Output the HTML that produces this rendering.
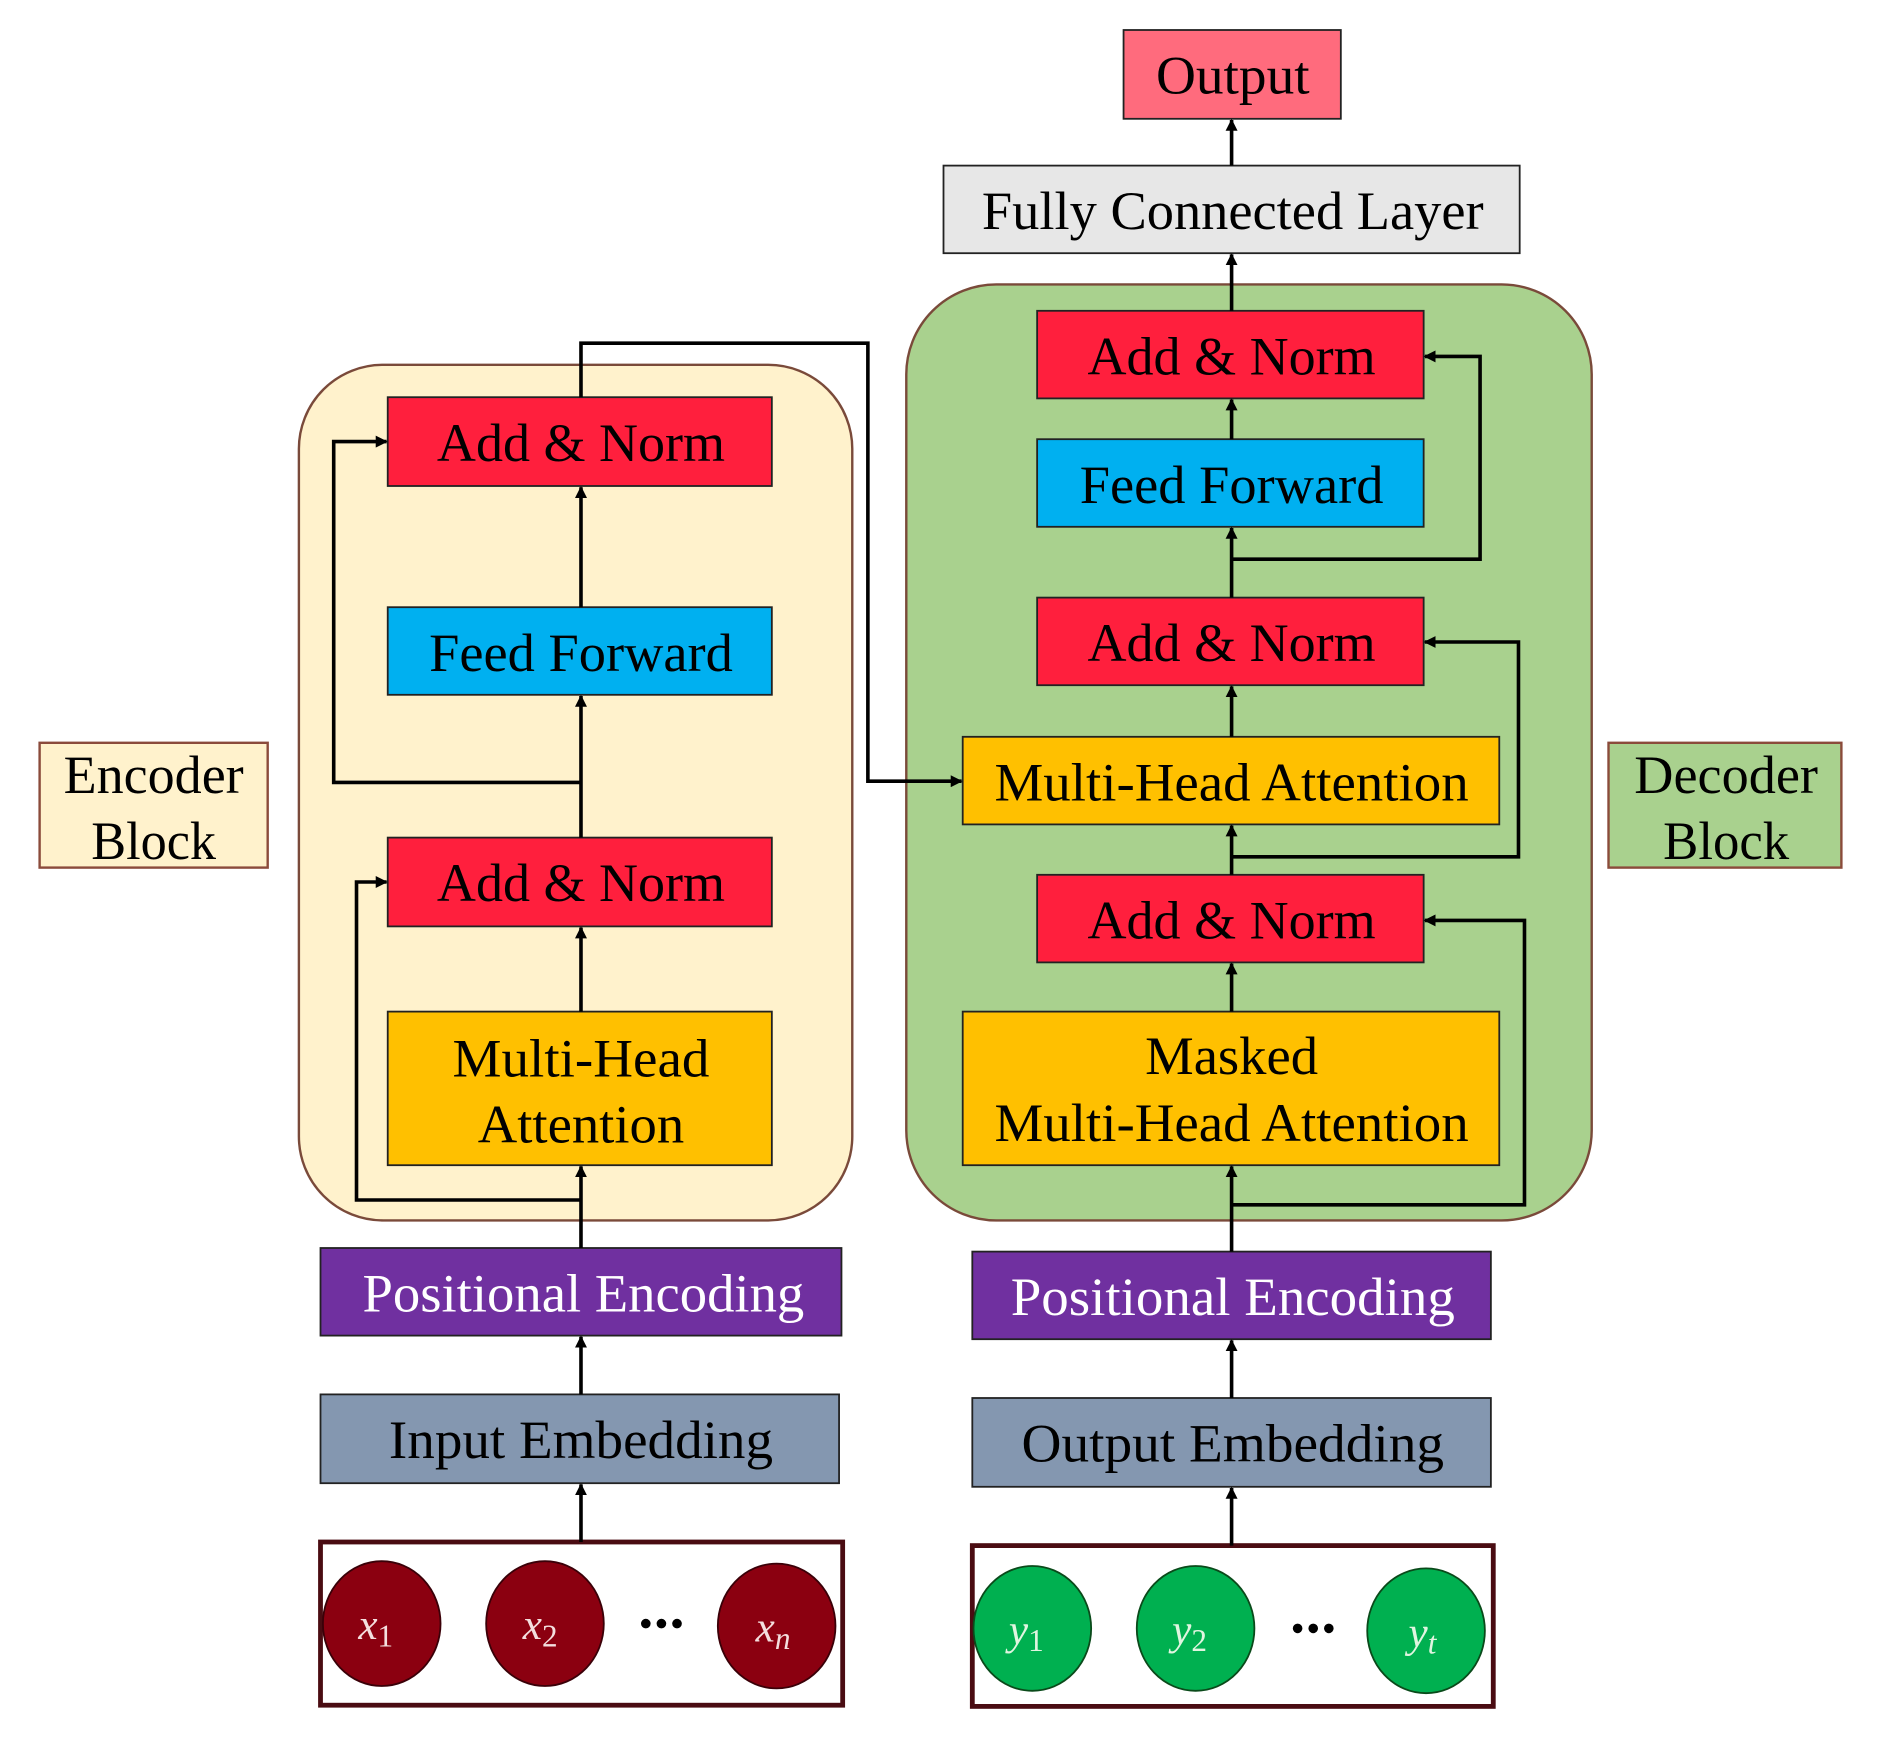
<!DOCTYPE html>
<html><head><meta charset="utf-8"><style>
html,body{margin:0;padding:0;background:#fff;}
svg{display:block;}
text{font-family:"Liberation Serif",serif;font-size:45px;fill:#000;text-anchor:middle;}
</style></head><body>
<svg width="1881" height="1746" viewBox="0 0 1567 1455" preserveAspectRatio="none" xmlns="http://www.w3.org/2000/svg">
<defs>
<marker id="a" markerWidth="10" markerHeight="10" refX="9" refY="5" orient="auto" markerUnits="userSpaceOnUse"><path d="M0,0 L10,5 L0,10 z" fill="#000"/></marker>
</defs>
<rect x="249" y="304" width="461" height="713" rx="70" fill="#fff2cc" stroke="#7a4a3a" stroke-width="2"/>
<rect x="755" y="237" width="571" height="780" rx="75" fill="#a9d18e" stroke="#7a4a3a" stroke-width="2"/>
<rect x="33" y="619" width="190" height="104" fill="#fff2cc" stroke="#8b4b3b" stroke-width="2"/>
<text x="128" y="661" textLength="150" lengthAdjust="spacingAndGlyphs">Encoder</text>
<text x="128" y="716" textLength="104" lengthAdjust="spacingAndGlyphs">Block</text>
<rect x="1340" y="619" width="194" height="104" fill="#a9d18e" stroke="#8b4b3b" stroke-width="2"/>
<text x="1438" y="661" textLength="153" lengthAdjust="spacingAndGlyphs">Decoder</text>
<text x="1438" y="716" textLength="105" lengthAdjust="spacingAndGlyphs">Block</text>

<g stroke="#222" stroke-width="1.5">
<rect x="936" y="25" width="181" height="74" fill="#ff6b7d"/>
<rect x="786" y="138" width="480" height="73" fill="#e7e7e7"/>
<rect x="323" y="331" width="320" height="74" fill="#ff1f3d"/>
<rect x="323" y="506" width="320" height="73" fill="#00b0f0"/>
<rect x="323" y="698" width="320" height="74" fill="#ff1f3d"/>
<rect x="323" y="843" width="320" height="128" fill="#ffc000"/>
<rect x="864" y="259" width="322" height="73" fill="#ff1f3d"/>
<rect x="864" y="366" width="322" height="73" fill="#00b0f0"/>
<rect x="864" y="498" width="322" height="73" fill="#ff1f3d"/>
<rect x="802" y="614" width="447" height="73" fill="#ffc000"/>
<rect x="864" y="729" width="322" height="73" fill="#ff1f3d"/>
<rect x="802" y="843" width="447" height="128" fill="#ffc000"/>
<rect x="267" y="1040" width="434" height="73" fill="#7030a0"/>
<rect x="810" y="1043" width="432" height="73" fill="#7030a0"/>
<rect x="267" y="1162" width="432" height="74" fill="#8497b0"/>
<rect x="810" y="1165" width="432" height="74" fill="#8497b0"/>
</g>
<rect x="267" y="1285" width="435" height="136" fill="#fff" stroke="#4a0c12" stroke-width="4"/>
<rect x="810" y="1288" width="434" height="134" fill="#fff" stroke="#4a0c12" stroke-width="4"/>

<g stroke="#000" stroke-width="3" fill="none">
<line x1="1026" y1="138" x2="1026" y2="100" marker-end="url(#a)"/>
<line x1="1026" y1="259" x2="1026" y2="212" marker-end="url(#a)"/>
<line x1="1026" y1="366" x2="1026" y2="333" marker-end="url(#a)"/>
<line x1="1026" y1="498" x2="1026" y2="440" marker-end="url(#a)"/>
<polyline points="1026,466 1233,466 1233,297 1187,297" marker-end="url(#a)"/>
<line x1="1026" y1="614" x2="1026" y2="572" marker-end="url(#a)"/>
<line x1="1026" y1="729" x2="1026" y2="688" marker-end="url(#a)"/>
<polyline points="1026,714 1265,714 1265,535 1187,535" marker-end="url(#a)"/>
<line x1="1026" y1="843" x2="1026" y2="803" marker-end="url(#a)"/>
<line x1="1026" y1="1043" x2="1026" y2="972" marker-end="url(#a)"/>
<polyline points="1026,1004 1270,1004 1270,767 1187,767" marker-end="url(#a)"/>
<line x1="1026" y1="1165" x2="1026" y2="1117" marker-end="url(#a)"/>
<line x1="1026" y1="1288" x2="1026" y2="1240" marker-end="url(#a)"/>
<line x1="484" y1="1040" x2="484" y2="972" marker-end="url(#a)"/>
<polyline points="484,1000 297,1000 297,735 322,735" marker-end="url(#a)"/>
<line x1="484" y1="843" x2="484" y2="773" marker-end="url(#a)"/>
<line x1="484" y1="698" x2="484" y2="580" marker-end="url(#a)"/>
<polyline points="484,652 278,652 278,368 322,368" marker-end="url(#a)"/>
<line x1="484" y1="506" x2="484" y2="406" marker-end="url(#a)"/>
<polyline points="484,331 484,286 723,286 723,651 801,651" marker-end="url(#a)"/>
<line x1="484" y1="1162" x2="484" y2="1114" marker-end="url(#a)"/>
<line x1="484" y1="1285" x2="484" y2="1237" marker-end="url(#a)"/>
</g>

<text x="1027" y="78" textLength="128" lengthAdjust="spacingAndGlyphs">Output</text>
<text x="1027" y="191" textLength="418" lengthAdjust="spacingAndGlyphs">Fully Connected Layer</text>
<text x="484" y="384" textLength="240" lengthAdjust="spacingAndGlyphs">Add &amp; Norm</text>
<text x="484" y="559" textLength="253" lengthAdjust="spacingAndGlyphs">Feed Forward</text>
<text x="484" y="751" textLength="240" lengthAdjust="spacingAndGlyphs">Add &amp; Norm</text>
<text x="484" y="897" textLength="214" lengthAdjust="spacingAndGlyphs">Multi-Head</text>
<text x="484" y="952" textLength="172" lengthAdjust="spacingAndGlyphs">Attention</text>
<text x="1026" y="312" textLength="240" lengthAdjust="spacingAndGlyphs">Add &amp; Norm</text>
<text x="1026" y="419" textLength="253" lengthAdjust="spacingAndGlyphs">Feed Forward</text>
<text x="1026" y="551" textLength="240" lengthAdjust="spacingAndGlyphs">Add &amp; Norm</text>
<text x="1026" y="667" textLength="395" lengthAdjust="spacingAndGlyphs">Multi-Head Attention</text>
<text x="1026" y="782" textLength="240" lengthAdjust="spacingAndGlyphs">Add &amp; Norm</text>
<text x="1026" y="895" textLength="144" lengthAdjust="spacingAndGlyphs">Masked</text>
<text x="1026" y="951" textLength="395" lengthAdjust="spacingAndGlyphs">Multi-Head Attention</text>
<text x="486" y="1093" textLength="368" lengthAdjust="spacingAndGlyphs" style="fill:#fff">Positional Encoding</text>
<text x="1027" y="1096" textLength="370" lengthAdjust="spacingAndGlyphs" style="fill:#fff">Positional Encoding</text>
<text x="484" y="1215" textLength="320" lengthAdjust="spacingAndGlyphs">Input Embedding</text>
<text x="1027" y="1218" textLength="352" lengthAdjust="spacingAndGlyphs">Output Embedding</text>

<g stroke="#3a0008" stroke-width="1.5" fill="#8b0010">
<ellipse cx="318" cy="1353" rx="49" ry="52"/>
<ellipse cx="454" cy="1353" rx="49" ry="52"/>
<ellipse cx="647" cy="1355" rx="49" ry="52"/>
</g>
<g stroke="#0a4a1a" stroke-width="1.5" fill="#00b050">
<ellipse cx="860" cy="1357" rx="49" ry="52"/>
<ellipse cx="996" cy="1357" rx="49" ry="52"/>
<ellipse cx="1188" cy="1359" rx="49" ry="52"/>
</g>
<g fill="#000"><circle cx="538" cy="1353" r="4"/><circle cx="551" cy="1353" r="4"/><circle cx="564" cy="1353" r="4"/>
<circle cx="1081" cy="1357" r="4"/><circle cx="1094" cy="1357" r="4"/><circle cx="1107" cy="1357" r="4"/></g>
<text x="313" y="1366" style="fill:#f4dede;font-style:italic;font-size:36px">x<tspan font-size="26" dy="6" font-style="normal">1</tspan></text>
<text x="450" y="1366" style="fill:#f4dede;font-style:italic;font-size:36px">x<tspan font-size="26" dy="6" font-style="normal">2</tspan></text>
<text x="644" y="1368" style="fill:#f4dede;font-style:italic;font-size:36px">x<tspan font-size="26" dy="6">n</tspan></text>
<text x="855" y="1370" style="fill:#e0f5e0;font-style:italic;font-size:36px">y<tspan font-size="26" dy="6" font-style="normal">1</tspan></text>
<text x="991" y="1370" style="fill:#e0f5e0;font-style:italic;font-size:36px">y<tspan font-size="26" dy="6" font-style="normal">2</tspan></text>
<text x="1185" y="1372" style="fill:#e0f5e0;font-style:italic;font-size:36px">y<tspan font-size="26" dy="6">t</tspan></text>
</svg>
</body></html>
